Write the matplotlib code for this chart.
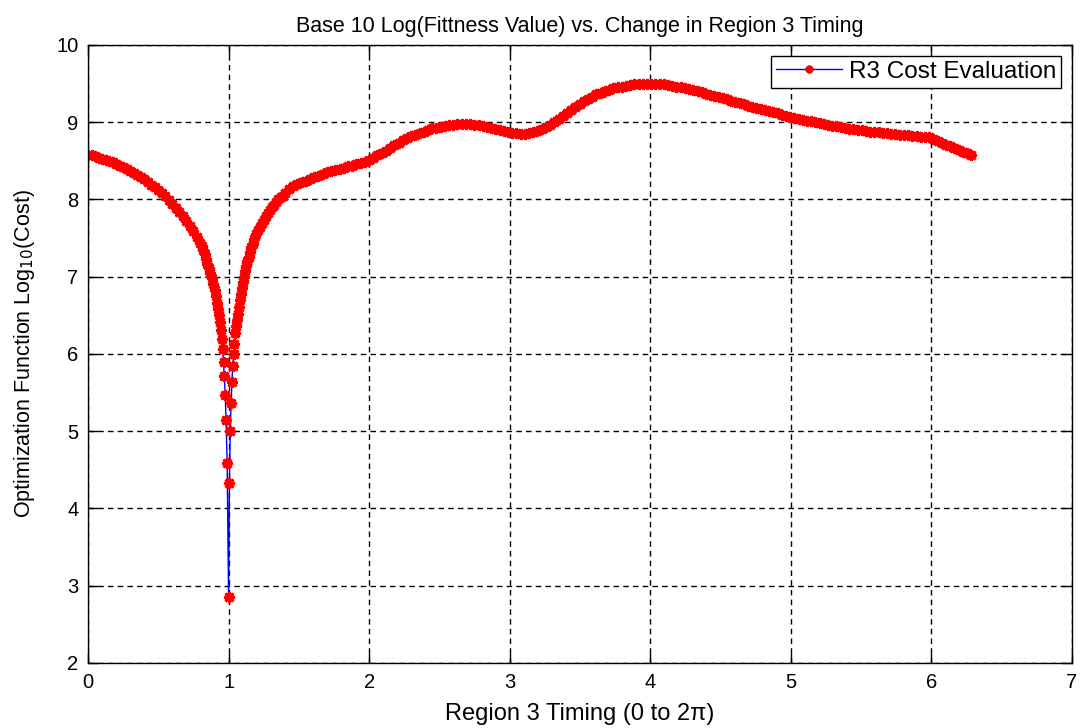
import numpy as np
import matplotlib
matplotlib.use("Agg")
import matplotlib.pyplot as plt

plt.rcParams['font.family'] = ['Liberation Sans', 'DejaVu Sans']

# left shoulder, evenly spaced from 0 to 0.8
x_left = np.linspace(0, 0.8, 33)
y_left = [8.58, 8.57, 8.56, 8.54, 8.53, 8.51, 8.50, 8.48, 8.46, 8.44,
          8.42, 8.40, 8.37, 8.34, 8.32, 8.29, 8.26, 8.23, 8.19, 8.16,
          8.12, 8.08, 8.04, 7.99, 7.94, 7.89, 7.84, 7.78, 7.72, 7.66,
          7.59, 7.52, 7.44]

# finer samples around the minimum
x_dip = [0.81, 0.82, 0.83, 0.84, 0.85, 0.86, 0.87, 0.88, 0.89, 0.90,
         0.91, 0.92, 0.928, 0.934, 0.940, 0.946, 0.952, 0.958, 0.964, 0.970,
         0.976, 0.982, 0.990, 1.000, 1.006, 1.012, 1.018, 1.024, 1.030, 1.036,
         1.042, 1.048, 1.055, 1.062, 1.069, 1.076, 1.083, 1.090, 1.097, 1.104,
         1.111, 1.118, 1.126, 1.134, 1.142, 1.152, 1.162, 1.172, 1.184, 1.196,
         1.208, 1.222, 1.236, 1.250, 1.265, 1.280, 1.295, 1.310, 1.325, 1.340,
         1.355, 1.370, 1.385, 1.400]
y_dip = [7.40, 7.35, 7.29, 7.23, 7.17, 7.11, 7.05, 6.98, 6.91, 6.83,
         6.75, 6.66, 6.58, 6.50, 6.41, 6.31, 6.20, 6.06, 5.89, 5.71,
         5.47, 5.15, 4.59, 2.86, 4.33, 5.00, 5.37, 5.64, 5.85, 6.00,
         6.13, 6.27, 6.36, 6.44, 6.52, 6.61, 6.70, 6.78, 6.86, 6.93,
         7.00, 7.07, 7.14, 7.20, 7.26, 7.32, 7.38, 7.43, 7.49, 7.55,
         7.60, 7.65, 7.70, 7.74, 7.78, 7.82, 7.86, 7.90, 7.93, 7.97,
         8.00, 8.03, 8.05, 8.08]

# rest of the sweep up to 2*pi
x_right = np.linspace(1.43, 2 * np.pi, 163)
y_right = [8.13, 8.17, 8.20, 8.22, 8.24, 8.26, 8.29, 8.31, 8.33, 8.35,
           8.37, 8.38, 8.40, 8.41, 8.43, 8.44, 8.46, 8.47, 8.49, 8.51,
           8.54, 8.57, 8.60, 8.63, 8.67, 8.70, 8.73, 8.77, 8.80, 8.82,
           8.84, 8.86, 8.88, 8.90, 8.92, 8.93, 8.94, 8.95, 8.96, 8.97,
           8.975, 8.98, 8.98, 8.975, 8.97, 8.96, 8.95, 8.94, 8.93, 8.91,
           8.90, 8.89, 8.87, 8.86, 8.855, 8.85, 8.85, 8.855, 8.87, 8.89,
           8.91, 8.94, 8.97, 9.00, 9.04, 9.08, 9.12, 9.16, 9.20, 9.24,
           9.27, 9.30, 9.33, 9.36, 9.38, 9.40, 9.42, 9.44, 9.45, 9.46,
           9.47, 9.48, 9.49, 9.495, 9.50, 9.50, 9.50, 9.50, 9.495, 9.49,
           9.48, 9.47, 9.46, 9.45, 9.44, 9.43, 9.415, 9.40, 9.385, 9.37,
           9.355, 9.34, 9.325, 9.31, 9.295, 9.28, 9.265, 9.25, 9.23, 9.215,
           9.20, 9.185, 9.17, 9.16, 9.145, 9.13, 9.115, 9.10, 9.085, 9.07,
           9.06, 9.045, 9.035, 9.02, 9.01, 9.00, 8.99, 8.975, 8.965, 8.955,
           8.945, 8.935, 8.925, 8.915, 8.91, 8.90, 8.895, 8.89, 8.88, 8.875,
           8.87, 8.86, 8.855, 8.85, 8.845, 8.84, 8.835, 8.83, 8.825, 8.82,
           8.815, 8.81, 8.805, 8.78, 8.755, 8.73, 8.71, 8.69, 8.665, 8.64,
           8.62, 8.60, 8.58]

x = np.concatenate([x_left, x_dip, x_right])
y = np.concatenate([y_left, y_dip, y_right])

fig = plt.figure(figsize=(10.81, 7.28), dpi=100)
ax = fig.add_axes([0.0814, 0.0893, 0.9103, 0.8489])

ax.plot(x, y, color='blue', linewidth=1.0, marker=(8, 2, 0),
        markersize=8, markeredgewidth=2.0, markeredgecolor='red',
        markerfacecolor='red', label='R3 Cost Evaluation')

ax.set_xlim(0, 7)
ax.set_ylim(2, 10)
ax.set_xticks(range(0, 8))
ax.set_yticks(range(2, 11))

# dashed grid and inward ticks on all four sides
ax.grid(True, color='black', linestyle=(0, (4, 3)), linewidth=1.0)
ax.tick_params(direction='in', length=7, width=1, top=True, right=True,
               labelsize=14.5, pad=7)
for s in ax.spines.values():
    s.set_linewidth(1.0)

ax.set_title('Base 10 Log(Fittness Value) vs. Change in Region 3 Timing',
             fontsize=15.5, pad=9)
ax.set_xlabel('Region 3 Timing (0 to 2\u03c0)', fontsize=17, labelpad=8)
ax.set_ylabel('Optimization Function Log$_{10}$(Cost)', fontsize=15.5,
              labelpad=14)

leg = ax.legend(loc='upper right', fontsize=17.5, fancybox=False,
                framealpha=1, edgecolor='black', handlelength=2.7,
                handletextpad=0.3, borderaxespad=0.45, borderpad=0.2,
                markerscale=0.7)
leg.get_frame().set_linewidth(1.0)

plt.savefig('out.png', dpi=100)
